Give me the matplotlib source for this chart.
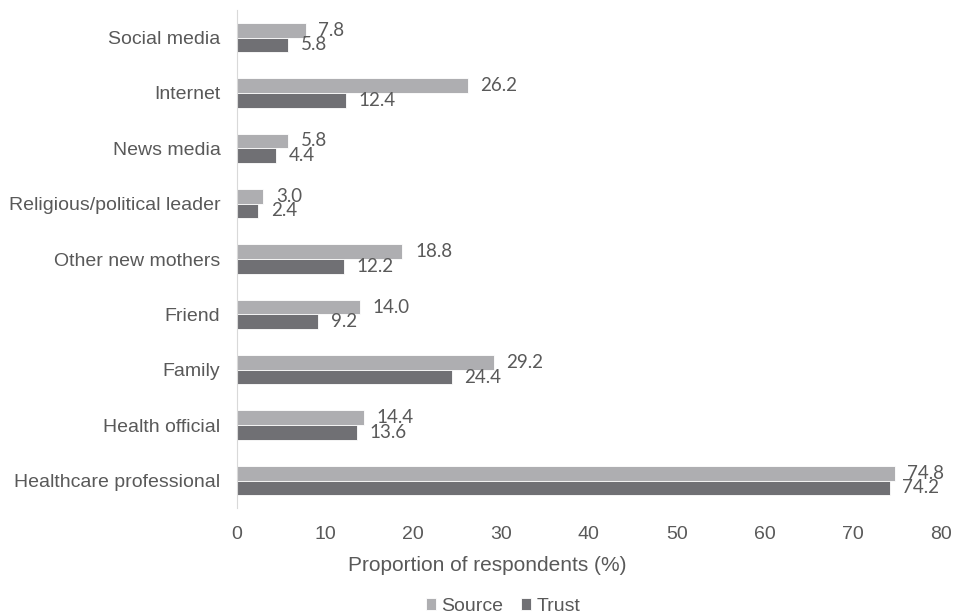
import numpy as np
import matplotlib.pyplot as plt

categorias = ["Healthcare professional", "Health official", "Family", "Friend",
              "Other new mothers", "Religious/political leader", "News media",
              "Internet", "Social media"]
source = [74.8, 14.4, 29.2, 14.0, 18.8, 3.0, 5.8, 26.2, 7.8]
trust = [74.2, 13.6, 24.4, 9.2, 12.2, 2.4, 4.4, 12.4, 5.8]

gris_txt = "#595959"
plt.rcParams['font.family'] = ['Liberation Sans', 'DejaVu Sans']

fig = plt.figure(figsize=(9.56, 6.16), dpi=100)
ax = fig.add_axes([0.248, 0.175, 0.736, 0.809])

y = np.arange(len(categorias))
h = 0.265
b1 = ax.barh(y + h/2, source, height=h, color="#AEAEB1", edgecolor="white", linewidth=0.6, label="Source")
b2 = ax.barh(y - h/2, trust, height=h, color="#707074", edgecolor="white", linewidth=0.6, label="Trust")

for barras, vals in [(b1, source), (b2, trust)]:
    for r, v in zip(barras, vals):
        ax.annotate("%.1f" % v, (r.get_width(), r.get_y() + r.get_height()/2),
                    xytext=(9, 0), textcoords="offset points", va="center", ha="left",
                    fontsize=13.5, color=gris_txt, family=["Lato", "DejaVu Sans"])

ax.set_xlim(0, 80)
ax.set_ylim(-0.5, 8.5)
ax.set_xticks(range(0, 81, 10))
ax.set_yticks(y)
ax.set_yticklabels(categorias)
ax.tick_params(length=0, labelsize=14, colors=gris_txt)
ax.tick_params(axis="y", pad=12)
ax.tick_params(axis="x", pad=13)
for s in ["top", "right", "bottom"]:
    ax.spines[s].set_visible(False)
ax.spines["left"].set_color("#D9D9D9")
ax.set_xlabel("Proportion of respondents (%)", fontsize=15, color=gris_txt, labelpad=9)
ax.xaxis.label.set_x(0.355)

fig.legend(handles=[b1, b2], loc="center", bbox_to_anchor=(0.526, 0.016), ncol=2, frameon=False,
           fontsize=14, handlelength=0.55, handleheight=0.55, handletextpad=0.25, columnspacing=0.9,
           labelcolor=gris_txt)

fig.savefig("out.png", dpi=100)
